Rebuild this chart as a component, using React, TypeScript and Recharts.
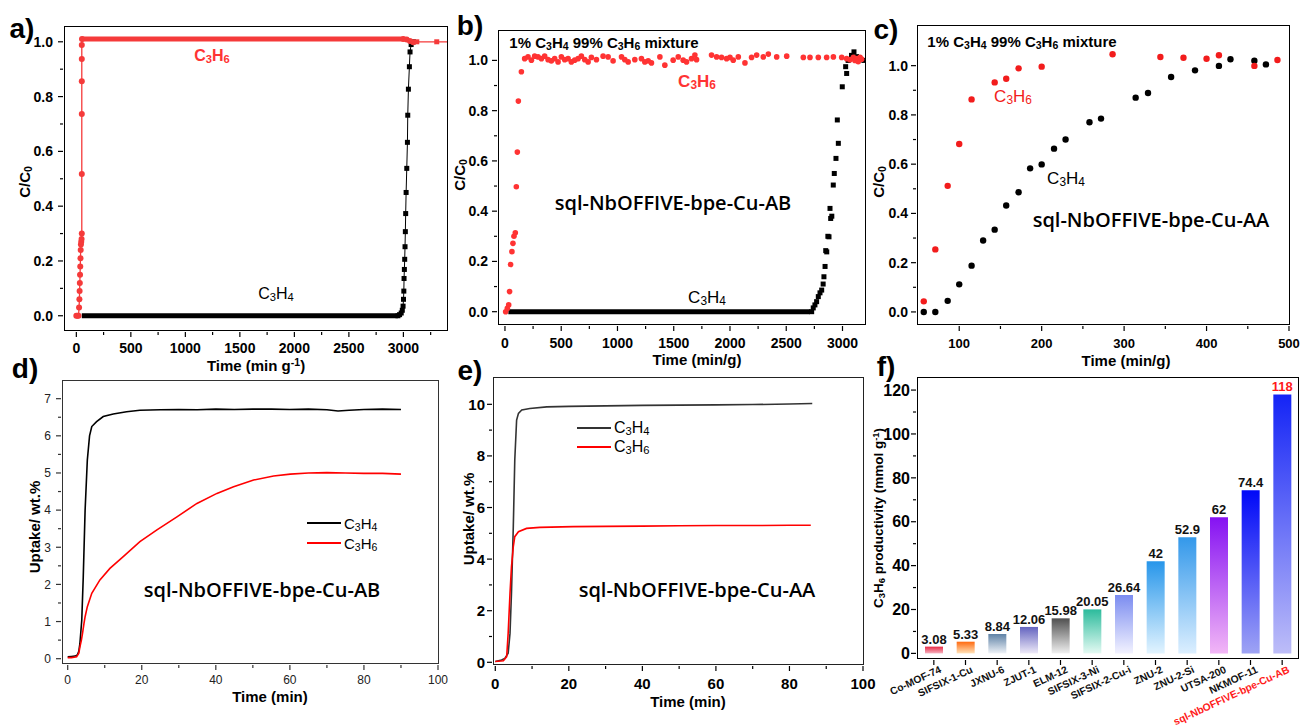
import React from 'react';
import {
  ComposedChart,
  BarChart,
  Bar,
  Cell,
  LabelList,
  Scatter,
  Line,
  XAxis,
  YAxis,
} from 'recharts';

const FONT = '"Liberation Sans", Arial, sans-serif';
const SANS = '"Open Sans", "Noto Sans", sans-serif';
const RED = '#f53a3a';

// ---------- a) breakthrough, time in min g-1
const aC3H6Time = [0, 10, 20, 25, 28, 30, 32, 34, 36, 38, 40, 42, 45, 48, 50, 50, 50, 50, 50, 50, 52, 3000, 3030, 3060, 3090, 3123, 3306, 3450];
const aC3H6C = [0, 0, 0, 0.03, 0.06, 0.09, 0.12, 0.15, 0.18, 0.21, 0.24, 0.26, 0.27, 0.28, 0.3, 0.517, 0.736, 0.856, 0.937, 0.988, 1.01, 1.01, 1.008, 1.003, 0.998, 1.0, 1.0, 1.0];
const aC3H6PlateauTime = [52, 3000];
const aC3H6PlateauC = [1.01, 1.01];
const aC3H4Time = [2950, 2965, 2980, 2990, 2997, 3001, 3004, 3006, 3009, 3012, 3015, 3018, 3021, 3025, 3031, 3037, 3040, 3046, 3055, 3061, 3071, 3092];
const aC3H4C = [0, 0.004, 0.01, 0.02, 0.035, 0.06, 0.09, 0.136, 0.169, 0.206, 0.252, 0.307, 0.373, 0.45, 0.538, 0.633, 0.732, 0.827, 0.909, 0.963, 0.99, 1.0];
const aC3H4BaseTime = [50, 2950];
const aC3H4BaseC = [0, 0];

// ---------- b) breakthrough, AB phase
const bC3H6Time = [6, 21, 33, 41, 50, 62, 71, 80, 92, 101, 110, 119, 146,
  175, 205, 235, 264, 294, 324, 353, 383, 412, 442, 472, 501, 531, 561, 590, 620, 650, 679, 709, 739,
  768, 813, 872, 917, 961, 1036, 1065, 1095, 1154, 1213, 1243, 1273, 1302, 1377, 1421, 1495, 1540, 1584, 1614, 1658,
  1688, 1703, 1836, 1881, 1925, 1970, 2000, 2029, 2074, 2133, 2192, 2237, 2296, 2341, 2415, 2504, 2652, 2711, 2785, 2859,
  2919, 2993, 3037, 3067, 3097, 3110, 3127, 3140, 3156, 3170];
const bC3H6C = [0, 0.013, 0.027, 0.08, 0.188, 0.239, 0.272, 0.3, 0.314, 0.497, 0.635, 0.838, 0.955,
  1.007, 1.014, 1.001, 1.017, 1.014, 1.007, 1.017, 1.003, 0.998, 1.007, 0.994, 1.014, 1.003, 1.007, 0.994, 1.001, 1.007, 1.017, 1.003, 0.994,
  1.012, 1.003, 1.017, 1.014, 0.998, 1.014, 1.003, 0.994, 1.003, 1.007, 0.994, 0.998, 0.99, 1.014, 0.981, 1.001, 1.014, 1.001, 0.994, 1.007,
  1.021, 1.003, 1.021, 1.014, 1.012, 1.007, 1.012, 1.001, 1.014, 0.99, 1.012, 1.021, 1.014, 1.025, 1.014, 1.017, 1.012, 1.012, 1.012, 1.012,
  1.014, 1.012, 1.007, 1.003, 1.012, 1.0, 1.007, 0.995, 1.012, 1.005];
const bC3H4Time = [2726, 2740, 2755, 2770, 2785, 2800, 2815, 2828, 2835, 2845, 2851, 2860, 2870, 2880, 2889, 2895, 2905, 2918, 2927, 2942, 2954, 2963, 2998, 3028, 3037, 3050, 3080, 3102, 3125, 3150, 3190];
const bC3H4C = [0, 0.015, 0.027, 0.04, 0.06, 0.075, 0.086, 0.11, 0.139, 0.18, 0.243, 0.238, 0.3, 0.298, 0.411, 0.371, 0.38, 0.504, 0.55, 0.61, 0.763, 0.67, 0.895, 0.975, 0.948, 1.0, 1.02, 1.034, 1.015, 1.01, 1.0];
const bC3H4BaseTime = [30, 2712];
const bC3H4BaseC = [0, 0];

// ---------- c) breakthrough, AA phase
const cC3H6Time = [57, 71, 86, 100, 115, 143, 157, 172, 200, 286, 344, 372, 400, 415, 458, 486];
const cC3H6C = [0.043, 0.254, 0.512, 0.682, 0.863, 0.932, 0.947, 0.989, 0.996, 1.046, 1.035, 1.032, 1.028, 1.042, 0.999, 1.023];
const cC3H4Time = [57, 71, 86, 100, 115, 129, 143, 157, 172, 186, 200, 215, 229, 258, 272, 314, 329, 357, 386, 415, 429, 458, 472];
const cC3H4C = [0, 0, 0.045, 0.112, 0.188, 0.29, 0.334, 0.432, 0.486, 0.583, 0.599, 0.663, 0.7, 0.77, 0.785, 0.87, 0.889, 0.954, 0.981, 0.999, 1.026, 1.02, 1.005];

// ---------- d) uptake kinetics, AB
const dC3H4Time = [0, 1, 2, 2.6, 3, 3.3, 3.8, 4.2, 4.7, 5.3, 5.9, 6.5, 7.8, 9.6, 12.3, 15.9, 19.5, 25, 30, 35, 40, 45, 50, 55, 60, 65, 70, 73, 76, 80, 85, 90];
const dC3H4Up = [0.05, 0.06, 0.07, 0.1, 0.2, 0.41, 1.04, 2.2, 4.0, 5.35, 6.0, 6.25, 6.38, 6.52, 6.59, 6.65, 6.69, 6.7, 6.71, 6.7, 6.72, 6.71, 6.72, 6.72, 6.71, 6.72, 6.7, 6.67, 6.69, 6.71, 6.72, 6.71];
const dC3H6Time = [0, 1, 2.4, 3, 3.3, 3.7, 4, 4.4, 4.7, 5.3, 6.5, 8.7, 11.4, 15, 19.5, 24.1, 29.5, 34.9, 40.3, 44.8, 50.2, 55.6, 60.1, 65, 70, 75, 80, 85, 90];
const dC3H6Up = [0.03, 0.03, 0.05, 0.15, 0.32, 0.5, 0.68, 0.95, 1.13, 1.4, 1.76, 2.12, 2.43, 2.75, 3.15, 3.47, 3.82, 4.18, 4.45, 4.63, 4.81, 4.92, 4.97, 5.0, 5.01, 5.0, 4.99, 4.99, 4.97];

// ---------- e) uptake kinetics, AA
const eC3H4Time = [0, 1.7, 2.6, 3.5, 4, 4.4, 4.9, 5.3, 5.8, 6.3, 7.2, 9.4, 14, 20, 30, 40, 50, 60, 70, 80, 86.2];
const eC3H4Up = [0.03, 0.09, 0.15, 0.35, 1.12, 2.67, 5.26, 7.84, 9.39, 9.65, 9.78, 9.84, 9.9, 9.92, 9.94, 9.96, 9.97, 9.98, 9.99, 10.01, 10.03];
const eC3H6Time = [0, 2.2, 3.1, 3.5, 4, 4.4, 4.9, 5.3, 6.3, 8.5, 12.1, 21.2, 30, 40, 50, 60, 70, 80, 85.8];
const eC3H6Up = [0.03, 0.06, 0.22, 1.12, 2.67, 3.7, 4.48, 4.87, 5.06, 5.19, 5.23, 5.26, 5.27, 5.28, 5.29, 5.3, 5.3, 5.31, 5.31];

// ---------- f) productivity comparison
const fMaterials = ['Co-MOF-74', 'SIFSIX-1-Cu', 'JXNU-6', 'ZJUT-1', 'ELM-12', 'SIFSIX-3-Ni', 'SIFSIX-2-Cu-i', 'ZNU-2', 'ZNU-2-Si', 'UTSA-200', 'NKMOF-11', 'sql-NbOFFIVE-bpe-Cu-AB'];
const fProductivity = [3.08, 5.33, 8.84, 12.06, 15.98, 20.05, 26.64, 42, 52.9, 62, 74.4, 118];
const fLabels = ['3.08', '5.33', '8.84', '12.06', '15.98', '20.05', '26.64', '42', '52.9', '62', '74.4', '118'];
const fColors = [
  ['#e82a45', '#f6b3c0'], ['#ff6a10', '#ffe2b8'], ['#5f82a6', '#eef2f7'], ['#6464c0', '#eeeaf8'],
  ['#505050', '#f0f0f0'], ['#2cbb9c', '#e4faf3'], ['#7b8cf0', '#f2f2ff'], ['#2796ea', '#e2f4ff'],
  ['#3398ea', '#dcefff'], ['#8512f2', '#f2b6f6'], ['#0008f8', '#9ea3f4'], ['#1424f6', '#bdbdf8'],
];

// ticks
const timeTicks = [0, 500, 1000, 1500, 2000, 2500, 3000];
const timeMinor = [250, 750, 1250, 1750, 2250, 2750, 3250];
const cTicks = [0, 0.2, 0.4, 0.6, 0.8, 1.0];
const cMinor = [0.1, 0.3, 0.5, 0.7, 0.9];
const cTimeTicks = [100, 200, 300, 400, 500];
const cTimeMinor = [150, 250, 350, 450];
const minTicks = [0, 20, 40, 60, 80, 100];
const minMinor = [10, 30, 50, 70, 90];
const dUpTicks = [0, 1, 2, 3, 4, 5, 6, 7];
const dUpMinor = [0.5, 1.5, 2.5, 3.5, 4.5, 5.5, 6.5];
const eUpTicks = [0, 2, 4, 6, 8, 10];
const eUpMinor = [1, 3, 5, 7, 9];
const fTicks = [0, 20, 40, 60, 80, 100, 120];
const fMinor = [10, 30, 50, 70, 90, 110];

const pts = (t: number[], v: number[]) => t.map((x, i) => ({ t: x, v: v[i] }));
const fData = fMaterials.map((name, i) => ({ name, value: fProductivity[i], label: fLabels[i] }));

type Box = { l: number; t: number; r: number; b: number };
const A: Box = { l: 65, t: 27, r: 447, b: 330 };
const B: Box = { l: 499, t: 31, r: 865, b: 324 };
const C: Box = { l: 918, t: 26, r: 1289, b: 324 };
const D: Box = { l: 63, t: 381, r: 438, b: 663 };
const E: Box = { l: 494, t: 378, r: 863, b: 664 };
const F: Box = { l: 918, t: 378, r: 1298, b: 658 };
const PAD = 10;
const YW = 50;
const XH = 40;

// subscripts digits that follow a letter (C3H6, C/C0)
const chem = (s: string) =>
  s.split(/(?<=[A-Za-z])(\d+)/).map((p, i) =>
    i % 2 ? (
      <span key={i} style={{ fontSize: '0.7em', position: 'relative', top: '0.18em' }}>{p}</span>
    ) : (
      <React.Fragment key={i}>{p}</React.Fragment>
    )
  );
const sup = (s: string) => <span style={{ fontSize: '0.7em', position: 'relative', top: '-0.45em' }}>{s}</span>;

const Txt = ({ x, y, size, weight = 700, color = '#000', rot = 0, font = FONT, anchor = 'middle', children }: any) => (
  <div
    style={{
      position: 'absolute', left: x, top: y,
      transform: `translate(${anchor === 'start' ? '0' : '-50%'}, -50%) rotate(${rot}deg)`,
      fontSize: size, fontWeight: weight, color, fontFamily: font, lineHeight: 1, whiteSpace: 'nowrap',
    }}
  >
    {children}
  </div>
);

const Frame = ({ box, color = '#000' }: { box: Box; color?: string }) => (
  <div
    style={{
      position: 'absolute', left: box.l - 0.75, top: box.t - 0.75,
      width: box.r - box.l + 1.5, height: box.b - box.t + 1.5,
      border: `1.5px solid ${color}`, boxSizing: 'border-box', pointerEvents: 'none',
    }}
  />
);

const LegendRow = ({ x, y, color, label, size }: any) => (
  <>
    <div style={{ position: 'absolute', left: x, top: y - 1, width: 34, height: 2, background: color }} />
    <Txt x={x + 37} y={y} size={size} weight={400} anchor="start">{chem(label)}</Txt>
  </>
);

type TickOpts = { majors: number[]; size: number; gap: number; weight?: number; digits?: number; stroke?: string; color?: string };
const xTick = (o: TickOpts) => (p: any) => {
  const v = p.payload.value;
  const major = o.majors.includes(v);
  return (
    <g>
      <line x1={p.x} x2={p.x} y1={p.y} y2={p.y + (major ? 5 : 3)} stroke={o.stroke || '#000'} strokeWidth={1.2} />
      {major && (
        <text x={p.x} y={p.y + o.gap} textAnchor="middle" fontSize={o.size} fontWeight={o.weight ?? 700} fill={o.color || '#000'} fontFamily={FONT}>
          {o.digits ? v.toFixed(o.digits) : String(v)}
        </text>
      )}
    </g>
  );
};
const yTick = (o: TickOpts) => (p: any) => {
  const v = p.payload.value;
  const major = o.majors.includes(v);
  return (
    <g>
      <line x1={p.x} x2={p.x - (major ? 5 : 3)} y1={p.y} y2={p.y} stroke={o.stroke || '#000'} strokeWidth={1.2} />
      {major && (
        <text x={p.x - o.gap} y={p.y} dy="0.36em" textAnchor="end" fontSize={o.size} fontWeight={o.weight ?? 700} fill={o.color || '#000'} fontFamily={FONT}>
          {o.digits ? v.toFixed(o.digits) : String(v)}
        </text>
      )}
    </g>
  );
};

const circle = (r: number, fill: string) => (p: any) => <circle cx={p.cx} cy={p.cy} r={r} fill={fill} />;
const square = (s: number, fill: string) => (p: any) => <rect x={p.cx - s / 2} y={p.cy - s / 2} width={s} height={s} fill={fill} />;
const noDot = () => <g />;
const aRedShape = (p: any) => (p.payload.t > 3100 ? square(5, RED)(p) : circle(3, RED)(p));

const fTick = (p: any) => {
  const name = p.payload.value;
  const hl = name === fMaterials[fMaterials.length - 1];
  const tx = p.x + 8;
  const ty = p.y + 12;
  return (
    <g>
      <line x1={p.x} x2={p.x} y1={p.y} y2={p.y + 5} stroke="#000" strokeWidth={1.2} />
      <text x={tx} y={ty} textAnchor="end" transform={`rotate(-25 ${tx} ${ty})`} fontSize={10.3} fontWeight={700} fill={hl ? '#ff1a1a' : '#111'} fontFamily={FONT}>
        {name}
      </text>
    </g>
  );
};
const barLabel = (p: any) => (
  <text x={p.x + p.width / 2} y={p.y - 3} textAnchor="middle" fontSize={13} fontWeight={700} fill={p.value === fLabels[fLabels.length - 1] ? '#ff1a1a' : '#111'} fontFamily={FONT}>
    {p.value}
  </text>
);

const Plot = ({ box, xh = XH, padR = PAD, data, Chart = ComposedChart, children }: any) => (
  <div style={{ position: 'absolute', left: box.l - YW, top: box.t - PAD }}>
    <Chart
      width={box.r - box.l + YW + padR}
      height={box.b - box.t + PAD + xh}
      data={data}
      margin={{ top: PAD, right: padR, bottom: 0, left: 0 }}
    >
      {children}
    </Chart>
  </div>
);

const axisBase = { interval: 0 as const, tickSize: 0, tickLine: false, axisLine: false, allowDataOverflow: true };

export default function App() {
  return (
    <div style={{ position: 'absolute', left: 0, top: 0, width: 1301, height: 726, overflow: 'hidden', background: '#fff', fontFamily: FONT }}>
      {/* a */}
      <Plot box={A}>
        <XAxis dataKey="t" type="number" domain={[-104, 3400]} ticks={[...timeTicks, ...timeMinor]} height={XH} {...axisBase} tick={xTick({ majors: timeTicks, size: 14, gap: 21 })} />
        <YAxis dataKey="v" type="number" domain={[-0.052, 1.054]} ticks={[...cTicks, ...cMinor]} width={YW} {...axisBase} tick={yTick({ majors: cTicks, size: 14, gap: 10, digits: 1 })} />
        <Scatter data={pts(aC3H4BaseTime, aC3H4BaseC)} line={{ stroke: '#000', strokeWidth: 5 }} shape={noDot} isAnimationActive={false} />
        <Scatter data={pts(aC3H4Time, aC3H4C)} line={{ stroke: '#000', strokeWidth: 1 }} shape={square(5, '#000')} isAnimationActive={false} />
        <Scatter data={pts(aC3H6PlateauTime, aC3H6PlateauC)} line={{ stroke: RED, strokeWidth: 5 }} shape={noDot} isAnimationActive={false} />
        <Scatter data={pts(aC3H6Time, aC3H6C)} line={{ stroke: RED, strokeWidth: 1.3 }} shape={aRedShape} isAnimationActive={false} />
      </Plot>

      {/* b */}
      <Plot box={B}>
        <XAxis dataKey="t" type="number" domain={[-53, 3200]} ticks={[...timeTicks, ...timeMinor.slice(0, 6)]} height={XH} {...axisBase} tick={xTick({ majors: timeTicks, size: 14, gap: 22 })} />
        <YAxis dataKey="v" type="number" domain={[-0.049, 1.117]} ticks={[...cTicks, ...cMinor]} width={YW} {...axisBase} tick={yTick({ majors: cTicks, size: 14, gap: 9, digits: 1 })} />
        <Scatter data={pts(bC3H4BaseTime, bC3H4BaseC)} line={{ stroke: '#000', strokeWidth: 5 }} shape={noDot} isAnimationActive={false} />
        <Scatter data={pts(bC3H4Time, bC3H4C)} shape={square(5, '#000')} isAnimationActive={false} />
        <Scatter data={pts(bC3H6Time, bC3H6C)} shape={circle(2.8, '#f33')} isAnimationActive={false} />
      </Plot>

      {/* c */}
      <Plot box={C} padR={12}>
        <XAxis dataKey="t" type="number" domain={[50, 500]} ticks={[...cTimeTicks, ...cTimeMinor]} height={XH} {...axisBase} tick={xTick({ majors: cTimeTicks, size: 13, gap: 22 })} />
        <YAxis dataKey="v" type="number" domain={[-0.049, 1.161]} ticks={[...cTicks, ...cMinor]} width={YW} {...axisBase} tick={yTick({ majors: cTicks, size: 14, gap: 8, digits: 1 })} />
        <Scatter data={pts(cC3H4Time, cC3H4C)} shape={circle(3.2, '#000')} isAnimationActive={false} />
        <Scatter data={pts(cC3H6Time, cC3H6C)} shape={circle(3.2, '#f21c1c')} isAnimationActive={false} />
      </Plot>

      {/* d */}
      <Plot box={D}>
        <XAxis dataKey="t" type="number" domain={[-1.27, 100]} ticks={[...minTicks, ...minMinor]} height={XH} {...axisBase} tick={xTick({ majors: minTicks, size: 12, gap: 19, weight: 400, stroke: '#333', color: '#222' })} />
        <YAxis dataKey="v" type="number" domain={[-0.116, 7.476]} ticks={[...dUpTicks, ...dUpMinor]} width={YW} {...axisBase} tick={yTick({ majors: dUpTicks, size: 12, gap: 10, weight: 400, stroke: '#333', color: '#222' })} />
        <Line data={pts(dC3H4Time, dC3H4Up)} dataKey="v" type="linear" stroke="#000" strokeWidth={1.6} dot={false} isAnimationActive={false} />
        <Line data={pts(dC3H6Time, dC3H6Up)} dataKey="v" type="linear" stroke="#ff0000" strokeWidth={1.6} dot={false} isAnimationActive={false} />
      </Plot>

      {/* e */}
      <Plot box={E} padR={16}>
        <XAxis dataKey="t" type="number" domain={[-0.35, 100]} ticks={[...minTicks, ...minMinor]} height={XH} {...axisBase} tick={xTick({ majors: minTicks, size: 15, gap: 23 })} />
        <YAxis dataKey="v" type="number" domain={[-0.066, 11.02]} ticks={[...eUpTicks, ...eUpMinor]} width={YW} {...axisBase} tick={yTick({ majors: eUpTicks, size: 15, gap: 7 })} />
        <Line data={pts(eC3H4Time, eC3H4Up)} dataKey="v" type="linear" stroke="#333" strokeWidth={1.6} dot={false} isAnimationActive={false} />
        <Line data={pts(eC3H6Time, eC3H6Up)} dataKey="v" type="linear" stroke="#ff0000" strokeWidth={1.6} dot={false} isAnimationActive={false} />
      </Plot>

      {/* f */}
      <Plot box={F} xh={68} padR={3} data={fData} Chart={BarChart}>
        <defs>
          {fColors.map(([top, bottom], i) => (
            <linearGradient key={i} id={`fg${i}`} x1="0" y1="0" x2="0" y2="1">
              <stop offset="0%" stopColor={top} />
              <stop offset="100%" stopColor={bottom} />
            </linearGradient>
          ))}
        </defs>
        <XAxis dataKey="name" height={68} interval={0} tickSize={0} tickLine={false} axisLine={false} tick={fTick} />
        <YAxis type="number" domain={[-2.1, 125.5]} ticks={[...fTicks, ...fMinor]} width={YW} {...axisBase} tick={yTick({ majors: fTicks, size: 16, gap: 6 })} />
        <Bar dataKey="value" barSize={18} isAnimationActive={false}>
          {fData.map((d, i) => (
            <Cell key={d.name} fill={`url(#fg${i})`} />
          ))}
          <LabelList dataKey="label" content={barLabel} />
        </Bar>
      </Plot>

      <Frame box={A} />
      <Frame box={B} />
      <Frame box={C} />
      <Frame box={D} color="#333" />
      <Frame box={E} color="#222" />
      <Frame box={F} />

      {/* panel letters */}
      <Txt x={22} y={29} size={28}>a)</Txt>
      <Txt x={470} y={26} size={28}>b)</Txt>
      <Txt x={886} y={30} size={28}>c)</Txt>
      <Txt x={25} y={369} size={28}>d)</Txt>
      <Txt x={470} y={371} size={28}>e)</Txt>
      <Txt x={886} y={367} size={28}>f)</Txt>

      {/* axis titles */}
      <Txt x={256} y={365} size={15}>Time (min g{sup('-1')})</Txt>
      <Txt x={697} y={359} size={15}>Time (min/g)</Txt>
      <Txt x={1126} y={360} size={15}>Time (min/g)</Txt>
      <Txt x={270} y={696} size={15}>Time (min)</Txt>
      <Txt x={688} y={701} size={15}>Time (min)</Txt>
      <Txt x={24} y={182} size={15} rot={-90}>{chem('C/C0')}</Txt>
      <Txt x={459} y={175} size={15} rot={-90}>{chem('C/C0')}</Txt>
      <Txt x={878} y={182} size={15} rot={-90}>{chem('C/C0')}</Txt>
      <Txt x={34} y={527} size={15} rot={-90}>Uptake/ wt.%</Txt>
      <Txt x={468} y={519} size={15} rot={-90}>Uptake/ wt.%</Txt>
      <Txt x={879} y={518} size={13.5} rot={-90}>{chem('C3H6')} productivity (mmol g{sup('-1')})</Txt>

      {/* annotations */}
      <Txt x={212} y={56} size={16} color="#f33">{chem('C3H6')}</Txt>
      <Txt x={276} y={294} size={16} weight={400}>{chem('C3H4')}</Txt>
      <Txt x={604} y={42} size={15}>{chem('1% C3H4 99% C3H6 mixture')}</Txt>
      <Txt x={697} y={81} size={17} color="#f33">{chem('C3H6')}</Txt>
      <Txt x={707} y={297} size={17} weight={400}>{chem('C3H4')}</Txt>
      <Txt x={673} y={203} size={20} weight={600} font={SANS}>sql-NbOFFIVE-bpe-Cu-AB</Txt>
      <Txt x={1022} y={41} size={15}>{chem('1% C3H4 99% C3H6 mixture')}</Txt>
      <Txt x={1013} y={96} size={17} weight={400} color="#f21c1c">{chem('C3H6')}</Txt>
      <Txt x={1066} y={178} size={17} weight={400}>{chem('C3H4')}</Txt>
      <Txt x={1151} y={220} size={20} weight={600} font={SANS}>sql-NbOFFIVE-bpe-Cu-AA</Txt>
      <Txt x={262} y={590} size={20} weight={600} font={SANS}>sql-NbOFFIVE-bpe-Cu-AB</Txt>
      <Txt x={697} y={590} size={20} weight={600} font={SANS}>sql-NbOFFIVE-bpe-Cu-AA</Txt>

      {/* legends d, e */}
      <LegendRow x={307} y={523} color="#000" label="C3H4" size={15} />
      <LegendRow x={307} y={543} color="#ff0000" label="C3H6" size={15} />
      <LegendRow x={577} y={428} color="#333" label="C3H4" size={16} />
      <LegendRow x={577} y={447} color="#ff0000" label="C3H6" size={16} />
    </div>
  );
}
